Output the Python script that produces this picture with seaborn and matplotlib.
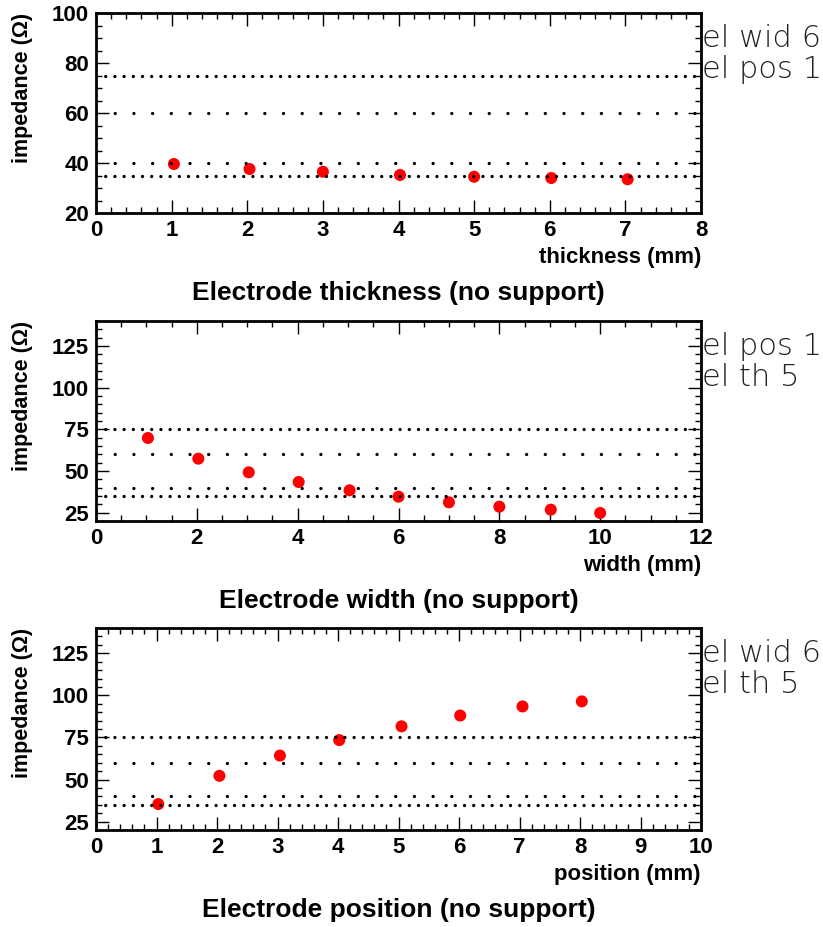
import matplotlib
matplotlib.use('Agg')
import matplotlib.pyplot as plt
import seaborn as sns
import pandas as pd
from matplotlib.ticker import MultipleLocator

# ---- data ----
thickness_mm = [1.03, 2.03, 3.0, 4.02, 5.0, 6.02, 7.03]
thickness_imp = [39.6, 37.6, 36.5, 35.2, 34.5, 34.0, 33.5]

width_mm = [1.03, 2.03, 3.03, 4.02, 5.03, 6.0, 7.0, 8.0, 9.02, 10.0]
width_imp = [69.8, 57.4, 49.2, 43.4, 38.4, 34.6, 31.2, 28.6, 26.8, 24.8]

position_mm = [1.03, 2.04, 3.04, 4.02, 5.05, 6.02, 7.05, 8.03]
position_imp = [35.4, 52.2, 64.2, 73.4, 81.6, 88.0, 93.4, 96.4]

dense_refs = [75, 35]
sparse_refs = [60, 40]

titles = ["Electrode thickness (no support)",
          "Electrode width (no support)",
          "Electrode position (no support)"]
xlabels = ["thickness (mm)", "width (mm)", "position (mm)"]
ylabel = "impedance (\u03a9)"
notes = [["el wid 6", "el pos 1"], ["el pos 1", "el th 5"], ["el wid 6", "el th 5"]]

xlims = [(0, 8), (0, 12), (0, 10)]
ylims = [(20, 100), (20, 140), (20, 140)]
xmajor = [1, 2, 1]
xminor = [0.2, 0.5, 0.2]
yminor = [5, 5, 5]
yticks = [[20, 40, 60, 80, 100], [25, 50, 75, 100, 125], [25, 50, 75, 100, 125]]

sns.set_theme(style="white")
plt.rcParams['font.family'] = ['Liberation Sans', 'DejaVu Sans']
plt.rcParams['text.color'] = 'black'
plt.rcParams['axes.labelcolor'] = 'black'
plt.rcParams['xtick.color'] = 'black'
plt.rcParams['ytick.color'] = 'black'

W, H = 823, 927
fig = plt.figure(figsize=(W / 100, H / 100), dpi=100)

# axes pixel boxes (top, bottom)
boxes = [(13, 213), (321, 521), (628, 830)]
left_px, right_px = 96, 701

datasets = [(thickness_mm, thickness_imp), (width_mm, width_imp), (position_mm, position_imp)]

for i, ((top, bot), (xs, ys)) in enumerate(zip(boxes, datasets)):
    ax = fig.add_axes([left_px / W, 1 - bot / H, (right_px - left_px) / W, (bot - top) / H])
    df = pd.DataFrame({"x": xs, "y": ys})
    sns.scatterplot(data=df, x="x", y="y", ax=ax, color="#ff0000", s=75,
                    edgecolor="none", linewidth=0, zorder=3)
    for v in dense_refs:
        ax.axhline(v, color="black", lw=2.4, ls=(0, (0.01, 2.75)),
                   dash_capstyle="round", zorder=4)
    for v in sparse_refs:
        ax.axhline(v, color="black", lw=2.4, ls=(0, (0.01, 5.6)),
                   dash_capstyle="round", zorder=4)
    ax.set_xlim(*xlims[i])
    ax.set_ylim(*ylims[i])
    ax.xaxis.set_major_locator(MultipleLocator(xmajor[i]))
    ax.xaxis.set_minor_locator(MultipleLocator(xminor[i]))
    ax.yaxis.set_minor_locator(MultipleLocator(yminor[i]))
    ax.set_yticks(yticks[i])
    ax.tick_params(which="both", direction="in", top=True, right=True,
                   bottom=True, left=True, colors="black", labelsize=16)
    ax.tick_params(which="major", length=9.5, width=1.0, pad=5)
    ax.tick_params(which="minor", length=4.5, width=1.0)
    for lab in ax.get_xticklabels() + ax.get_yticklabels():
        lab.set_fontweight("bold")
    for sp in ax.spines.values():
        sp.set_visible(True)
        sp.set_color("black")
        sp.set_linewidth(2.0)
    ax.set_xlabel(xlabels[i], loc="right", fontsize=16, fontweight="bold")
    ax.xaxis.set_label_coords(1.0, -0.17)
    ax.set_ylabel(ylabel, loc="top", fontsize=15.5, fontweight="bold")
    ax.yaxis.set_label_coords(-0.104, 1.0)
    ax.grid(False)

    fig.text((left_px + right_px) / 2 / W, 1 - (bot + 80) / H, titles[i],
             ha="center", va="center", fontsize=19, fontweight="bold")
    for k, note in enumerate(notes[i]):
        fig.text(702 / W, 1 - (top + 34 + 31 * k) / H, note, ha="left",
                 va="baseline", fontsize=22, fontweight=200,
                 family=["DejaVu Sans"], color="#222222")

fig.savefig("out.png", dpi=100)
